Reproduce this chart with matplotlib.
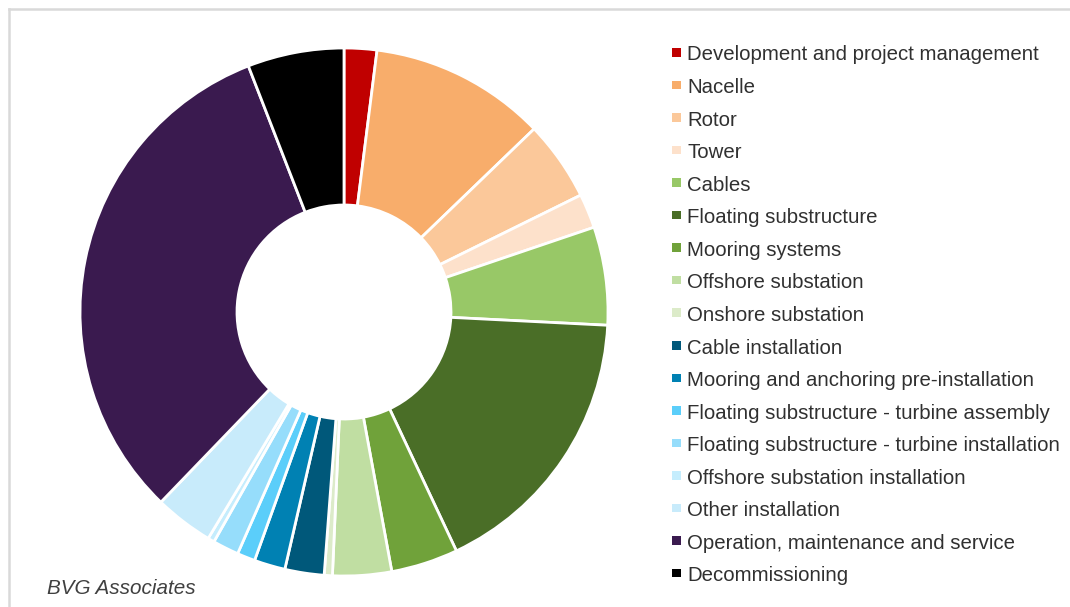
import matplotlib
matplotlib.use("Agg")
import matplotlib.pyplot as plt
from matplotlib.patches import Rectangle
from matplotlib.lines import Line2D

labels = [
    "Development and project management",
    "Nacelle",
    "Rotor",
    "Tower",
    "Cables",
    "Floating substructure",
    "Mooring systems",
    "Offshore substation",
    "Onshore substation",
    "Cable installation",
    "Mooring and anchoring pre-installation",
    "Floating substructure - turbine assembly",
    "Floating substructure - turbine installation",
    "Offshore substation installation",
    "Other installation",
    "Operation, maintenance and service",
    "Decommissioning",
]
shares = [2.0, 10.8, 4.9, 2.1, 6.0, 17.2, 4.1, 3.6, 0.5, 2.4, 1.9, 1.1, 1.6, 0.4, 3.6, 31.9, 5.9]
colors = [
    "#C00000", "#F8AD6B", "#FBC89A", "#FDE1CB", "#98C867", "#4A6E27", "#70A23A",
    "#C0DEA2", "#DCEBC9", "#00587A", "#0081B3", "#5BCEFA", "#96DDFB", "#C5EDFD",
    "#C8EBFB", "#3A1A4F", "#000000",
]
source = "BVG Associates"

W, H = 1070, 607
fig = plt.figure(figsize=(W / 100, H / 100), dpi=100)
fig.patch.set_facecolor("white")

# frame (top and left lines)
fig.add_artist(Line2D([9 / W, 9 / W], [0, 1 - 9 / H], transform=fig.transFigure,
                      color="#D9D9D9", lw=1.8))
fig.add_artist(Line2D([9 / W, 1], [1 - 9 / H, 1 - 9 / H], transform=fig.transFigure,
                      color="#D9D9D9", lw=1.8))

cx, cy, R = 344, 312, 264
half = 270
ax = fig.add_axes([(cx - half) / W, (H - cy - half) / H, 2 * half / W, 2 * half / H])
ax.pie(shares, colors=colors, startangle=90, counterclock=False, radius=1.0,
       wedgeprops=dict(width=1 - 107 / R, edgecolor="white", linewidth=2.0))
lim = half / R
ax.set_xlim(-lim, lim)
ax.set_ylim(-lim, lim)
ax.set_aspect("equal")
ax.axis("off")

# legend
y0, dy = 52, 32.56
for i, (lab, col) in enumerate(zip(labels, colors)):
    y = y0 + i * dy
    fig.add_artist(Rectangle((672 / W, 1 - (y + 4.5) / H), 8.5 / W, 8.5 / H,
                             transform=fig.transFigure, facecolor=col, edgecolor="none"))
    fig.text(687 / W, 1 - (y + 3) / H, lab, fontsize=14.7, family="Liberation Sans",
             color="#303030", va="center", ha="left")

fig.text(47 / W, 1 - 589 / H, source, fontsize=14.9, family="Liberation Sans",
         style="italic", color="#404040", va="center", ha="left")

fig.savefig("out.png", dpi=100, facecolor="white")
